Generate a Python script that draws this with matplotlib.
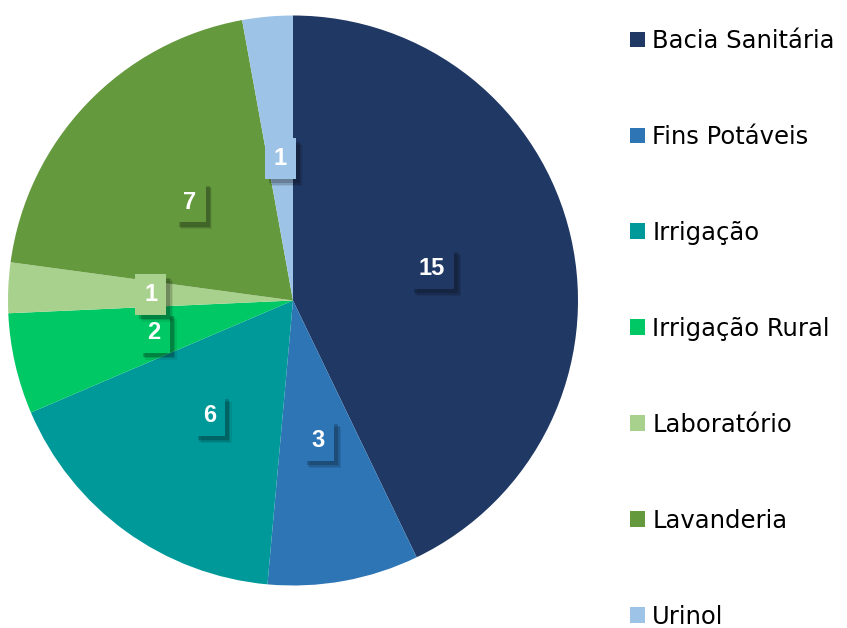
import matplotlib
matplotlib.use("Agg")
import matplotlib.pyplot as plt
import matplotlib.patheffects as pe
from matplotlib.patches import Patch

categorias = ["Bacia Sanitária", "Fins Potáveis", "Irrigação", "Irrigação Rural",
              "Laboratório", "Lavanderia", "Urinol"]
valores = [15, 3, 6, 2, 1, 7, 1]
cores = ["#203864", "#2E75B6", "#00999A", "#00C864", "#A9D18E", "#64993D", "#9DC3E6"]

W, H = 847, 628
fig = plt.figure(figsize=(W / 100, H / 100), dpi=100)
ax = fig.add_axes([0, 0, 1, 1])

total = sum(valores)
wedges, textos, autotextos = ax.pie(
    valores, colors=cores, startangle=90, counterclock=False,
    center=(293, H - 300.5), radius=285, frame=True,
    autopct=lambda p: f"{round(p * total / 100)}", pctdistance=0.5,
    wedgeprops=dict(linewidth=0))
ax.set_xlim(0, W)
ax.set_ylim(0, H)
ax.set_aspect("equal")
ax.axis("off")

# caixas dos rótulos com sombra suave
sombra = [pe.SimplePatchShadow(offset=(o, -o), shadow_rgbFace="black", alpha=a)
          for o, a in [(5, 0.08), (4, 0.12), (3, 0.18)]]
for t, c in zip(autotextos, cores):
    t.set_color("white")
    t.set_fontfamily("Liberation Sans")
    t.set_fontweight("bold")
    t.set_fontsize(17)
    t.set_bbox(dict(boxstyle="square,pad=0.38", facecolor=c, edgecolor="none"))
    t.get_bbox_patch().set_path_effects(sombra + [pe.Normal()])

handles = [Patch(facecolor=c, edgecolor="none") for c in cores]
leg = fig.legend(handles, categorias, loc="upper left",
                 bbox_to_anchor=(630 / W, 1 - 29 / H), frameon=False,
                 prop=dict(family="DejaVu Sans", size=17.5),
                 handlelength=0.62, handleheight=0.62, handletextpad=0.3,
                 labelspacing=2.96, borderpad=0, borderaxespad=0)

fig.savefig("out.png", dpi=100)
